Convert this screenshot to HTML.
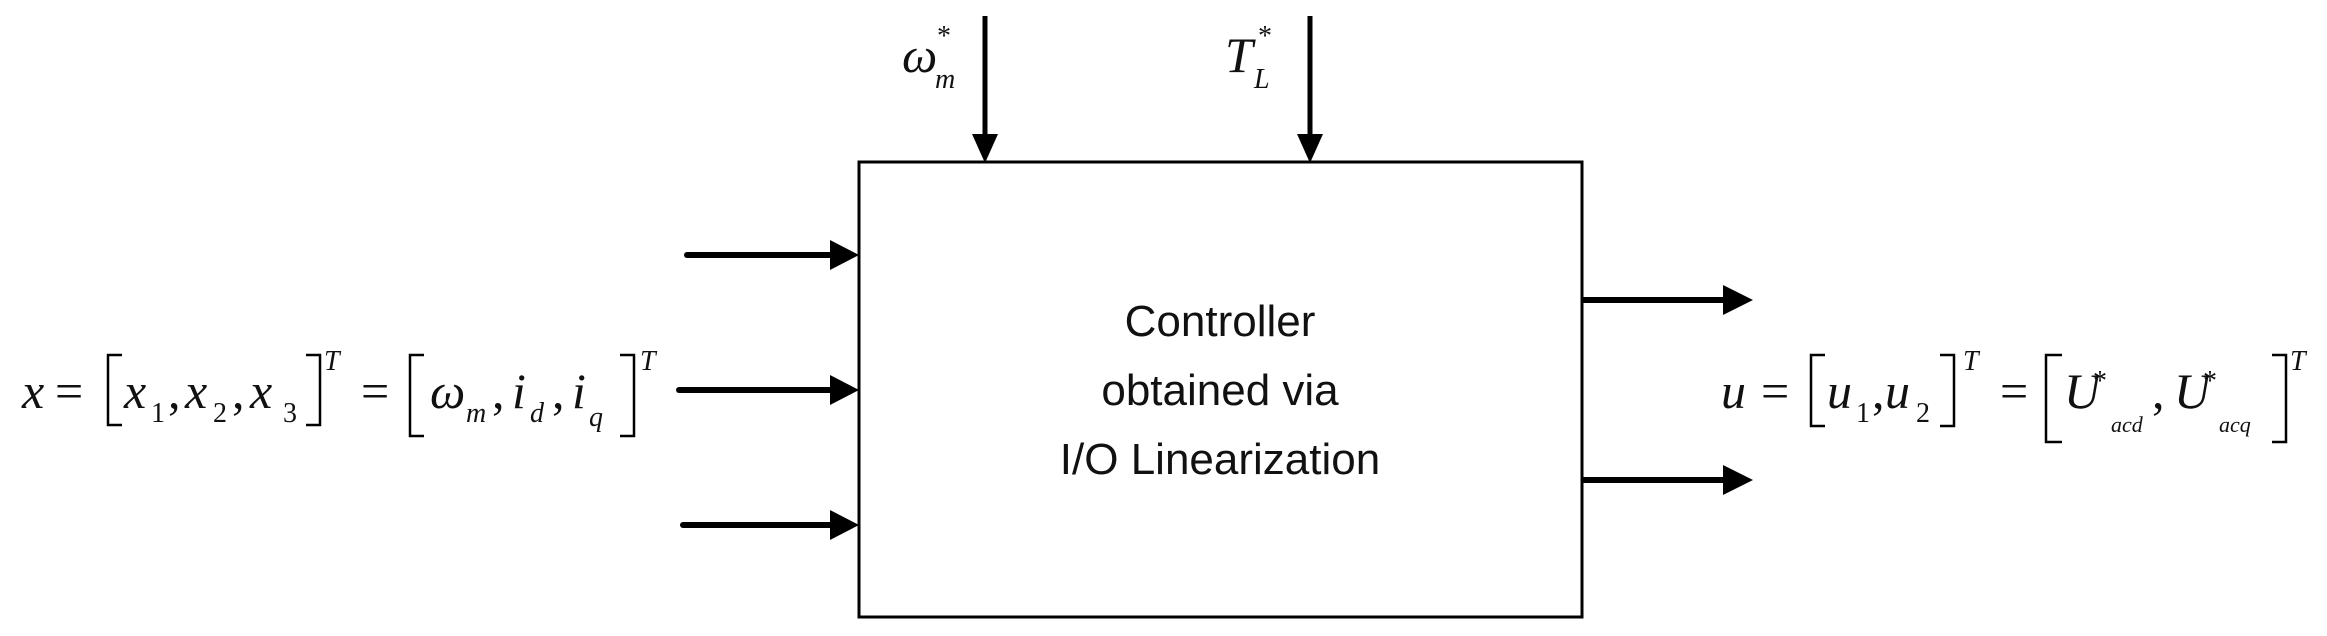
<!DOCTYPE html>
<html><head><meta charset="utf-8"><style>
html,body{margin:0;padding:0;background:#fff;}
svg{display:block;}
.m{font-family:"Liberation Serif",serif;font-style:italic;font-size:50px;fill:#111;}
.r{font-family:"Liberation Serif",serif;font-size:50px;fill:#111;}
.s{font-family:"Liberation Serif",serif;font-style:italic;font-size:28px;fill:#111;}
.sr{font-family:"Liberation Serif",serif;font-size:28px;fill:#111;}
.c{font-family:"Liberation Sans",sans-serif;font-size:44px;fill:#111;}
</style></head><body>
<svg width="2327" height="636" viewBox="0 0 2327 636" xmlns="http://www.w3.org/2000/svg">
<g stroke="#000" fill="none">
<rect x="859" y="162" width="723" height="455" stroke-width="3"/>
<line x1="985" y1="16" x2="985" y2="136" stroke-width="5"/>
<line x1="1310" y1="16" x2="1310" y2="136" stroke-width="5"/>
<line x1="687" y1="255" x2="832" y2="255" stroke-width="6" stroke-linecap="round"/>
<line x1="679" y1="390" x2="832" y2="390" stroke-width="6" stroke-linecap="round"/>
<line x1="683" y1="525" x2="832" y2="525" stroke-width="6" stroke-linecap="round"/>
<line x1="1582" y1="300" x2="1725" y2="300" stroke-width="6"/>
<line x1="1582" y1="480" x2="1725" y2="480" stroke-width="6"/>
<g stroke-width="2.5">
<polyline points="122,355 108,355 108,425 122,425"/>
<polyline points="306,355 320,355 320,425 306,425"/>
<polyline points="424,355 410,355 410,436 424,436"/>
<polyline points="620,355 634,355 634,436 620,436"/>
<polyline points="1825,355 1811,355 1811,426 1825,426"/>
<polyline points="1940,355 1954,355 1954,426 1940,426"/>
<polyline points="2062,355 2046,355 2046,442 2062,442"/>
<polyline points="2272,355 2286,355 2286,442 2272,442"/>
</g>
</g>
<g fill="#000">
<polygon points="972,134 998,134 985,163"/>
<polygon points="1297,134 1323,134 1310,163"/>
<polygon points="830,240 830,270 859,255"/>
<polygon points="830,375 830,405 859,390"/>
<polygon points="830,510 830,540 859,525"/>
<polygon points="1723,285 1723,315 1753,300"/>
<polygon points="1723,465 1723,495 1753,480"/>
</g>
<text class="c" x="1220" y="336" text-anchor="middle">Controller</text>
<text class="c" x="1220" y="405" text-anchor="middle">obtained via</text>
<text class="c" x="1220" y="474" text-anchor="middle">I/O Linearization</text>
<!-- top labels -->
<text class="m" x="902" y="72">ω</text><text class="s" x="935" y="88">m</text><text class="sr" x="937" y="45">*</text>
<text class="m" x="1225" y="72">T</text><text class="s" x="1254" y="88">L</text><text class="sr" x="1258" y="45">*</text>
<!-- left formula -->
<text class="m" x="22" y="408">x</text>
<text class="r" x="55" y="408">=</text>
<text class="m" x="124" y="408">x</text><text class="sr" x="151" y="422">1</text>
<text class="r" x="168" y="408">,</text>
<text class="m" x="185" y="408">x</text><text class="sr" x="213" y="422">2</text>
<text class="r" x="232" y="408">,</text>
<text class="m" x="250" y="408">x</text><text class="sr" x="283" y="422">3</text>
<text class="s" x="324" y="370">T</text>
<text class="r" x="361" y="408">=</text>
<text class="m" x="430" y="408">ω</text><text class="s" x="466" y="422">m</text>
<text class="r" x="492" y="408">,</text>
<text class="m" x="512" y="408">i</text><text class="s" x="530" y="422">d</text>
<text class="r" x="552" y="408">,</text>
<text class="m" x="572" y="408">i</text><text class="s" x="589" y="426">q</text>
<text class="s" x="640" y="370">T</text>
<!-- right formula -->
<text class="m" x="1721" y="408">u</text>
<text class="r" x="1761" y="408">=</text>
<text class="m" x="1827" y="408">u</text><text class="sr" x="1856" y="422">1</text>
<text class="r" x="1872" y="408">,</text>
<text class="m" x="1885" y="408">u</text><text class="sr" x="1916" y="422">2</text>
<text class="s" x="1963" y="370">T</text>
<text class="r" x="2000" y="408">=</text>
<text class="m" x="2064" y="408">U</text><text class="sr" x="2093" y="390">*</text><text class="s" x="2111" y="432" style="font-size:22px">acd</text>
<text class="r" x="2152" y="408">,</text>
<text class="m" x="2174" y="408">U</text><text class="sr" x="2203" y="390">*</text><text class="s" x="2219" y="432" style="font-size:22px">acq</text>
<text class="s" x="2290" y="370">T</text>
</svg>
</body></html>
